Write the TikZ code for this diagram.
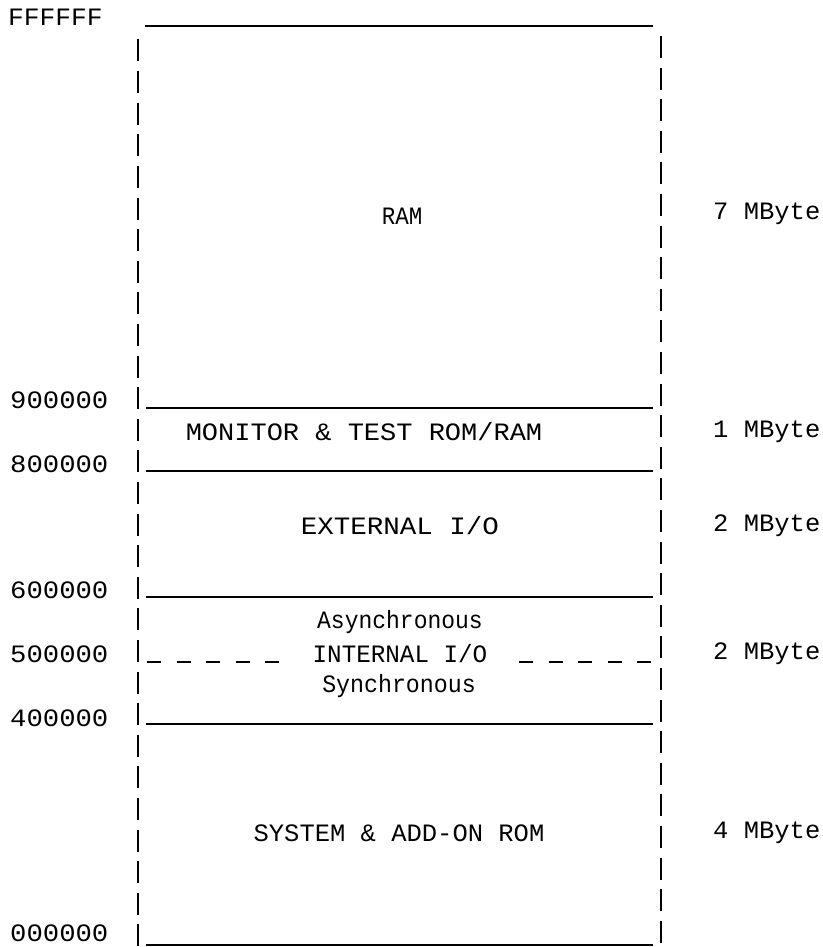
\documentclass[tikz,border=0pt]{standalone}
\usepackage{fontspec}
\usepackage{graphicx}
\setmonofont{Liberation Mono}
\newcommand\hsq[2]{\scalebox{#1}[1]{#2}}
\begin{document}
\begin{tikzpicture}[x=1pt,y=-1pt,
  txt/.style={font=\ttfamily\fontsize{25}{25}\selectfont, inner sep=0pt},
  addr/.style={txt, anchor=west},
  size/.style={txt, anchor=west},
  region/.style={txt, anchor=center},
  bar/.style={line width=2.4pt, dash pattern=on 22pt off 9.6pt},
  hline/.style={line width=2.2pt},
  dline/.style={line width=2.2pt, dash pattern=on 14pt off 15.5pt}]
\useasboundingbox (0,0) rectangle (822,947);
% vertical dashed borders
\coordinate (lt) at (138,39.5);
\coordinate (lb) at (138,946);
\coordinate (rt) at (661,36);
\coordinate (rb) at (661,943);
\draw[bar] (lt) -- (lb);
\draw[bar] (rt) -- (rb);
% horizontal boundaries
\draw[hline] (145,26) -- (653,26);
\draw[hline] (146,408) -- (653,408);
\draw[hline] (146,471) -- (653,471);
\draw[hline] (146,597) -- (653,597);
\draw[hline] (146,724) -- (653,724);
\draw[hline] (146,945) -- (653,945);
\draw[dline] (147,662) -- (279,662);
\draw[dline] (519,662) -- (660,662);
% addresses
\node[addr] (aF) at (8,17) {\hsq{1.05}{FFFFFF}};
\node[addr] (a9) at (10,400) {\hsq{1.09}{900000}};
\node[addr] (a8) at (10,464) {\hsq{1.09}{800000}};
\node[addr] (a6) at (10,590) {\hsq{1.09}{600000}};
\node[addr] (a5) at (10,654) {\hsq{1.09}{500000}};
\node[addr] (a4) at (10,718) {\hsq{1.09}{400000}};
\node[addr] (a0) at (10,933) {\hsq{1.09}{000000}};
% regions
\node[region] (ram) at (402,216) {\hsq{0.9}{RAM}};
\node[region] (mon) at (364,432) {\hsq{1.08}{MONITOR \& TEST ROM/RAM}};
\node[region] (ext) at (400,526) {\hsq{1.1}{EXTERNAL I/O}};
\node[region] (asy) at (400,622) {\hsq{0.92}{Asynchronous}};
\node[region] (int) at (400,654) {\hsq{0.97}{INTERNAL I/O}};
\node[region] (syn) at (399,686) {\hsq{0.93}{Synchronous}};
\node[region] (sys) at (399,833) {\hsq{1.02}{SYSTEM \& ADD-ON ROM}};
% sizes
\node[size] (s7) at (713,214) {\hsq{1.02}{7 MByte}};
\node[size] (s1) at (713,432) {\hsq{1.02}{1 MByte}};
\node[size] (s2a) at (713,526) {\hsq{1.02}{2 MByte}};
\node[size] (s2b) at (713,654) {\hsq{1.02}{2 MByte}};
\node[size] (s4) at (713,833) {\hsq{1.02}{4 MByte}};
\end{tikzpicture}
\end{document}
